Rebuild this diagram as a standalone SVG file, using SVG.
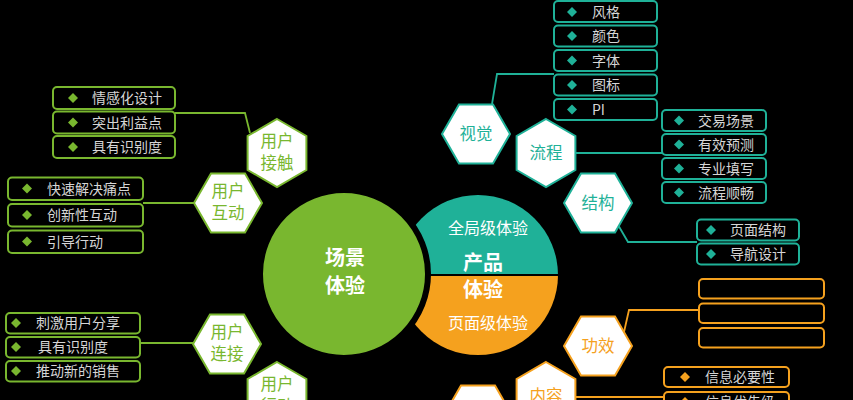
<svg xmlns="http://www.w3.org/2000/svg" xmlns:xlink="http://www.w3.org/1999/xlink" width="853" height="400" viewBox="0 0 853 400">
<style>
text{font-family:"Noto Sans CJK SC","Noto Sans",sans-serif}
.lt{font-size:14px;fill:#d6d6d6}
.ht{font-size:16.5px;text-anchor:middle}
.g{fill:#ffffff;stroke:#79b72f;stroke-width:2}
.t{fill:#ffffff;stroke:#1fb198;stroke-width:2}
.o{fill:#ffffff;stroke:#f5a11e;stroke-width:2}
.gt{fill:#79b72f}.tt{fill:#1fb198}.ot{fill:#f5a11e}
.bg{fill:#000;stroke:#79b72f;stroke-width:2}
.bt{fill:#000;stroke:#1fb198;stroke-width:2}
.bo{fill:#000;stroke:#f5a11e;stroke-width:2}
.cg{fill:none;stroke:#79b72f;stroke-width:1.8}
.ct{fill:none;stroke:#1fb198;stroke-width:1.8}
.co{fill:none;stroke:#f5a11e;stroke-width:1.8}
.ct2{font-size:16px;fill:#fff;text-anchor:middle}
.cb{font-size:20px;font-weight:bold;fill:#fff;text-anchor:middle}
</style>
<defs>
<polygon id="hA" points="-34,0 -17,-29.4 17,-29.4 34,0 17,29.4 -17,29.4"/>
<polygon id="hB" points="0,-34 29.4,-17 29.4,17 0,34 -29.4,17 -29.4,-17"/>
<path id="dia" d="M0,-5L5,0L0,5L-5,0Z"/>
</defs>
<rect width="853" height="400" fill="#000"/>

<g id="connectors">
<polyline class="ct" points="492,104 497,74 554,74"/>
<polyline class="ct" points="575,153 662,153"/>
<polyline class="ct" points="614,218 628,242 697,242"/>
<polyline class="co" points="624,332 629,310 699,310"/>
<polyline class="co" points="575,397 664,397"/>
<polyline class="cg" points="175,113 245,113 250,133"/>
<polyline class="cg" points="143,203 194,203"/>
<polyline class="cg" points="140,343 193,343"/>
</g>

<g id="product">
<path d="M398,275A80,80 0 0 1 558,275Z" fill="#1fb198"/>
<path d="M398,275A80,80 0 0 0 558,275Z" fill="#f5a11e"/>
<line x1="398" y1="275" x2="558" y2="275" stroke="#000" stroke-width="2"/>
<text class="ct2" x="488" y="234">全局级体验</text>
<text class="cb" x="483" y="270">产品</text>
<text class="cb" x="483" y="297">体验</text>
<text class="ct2" x="488" y="329">页面级体验</text>
</g>

<g id="scene">
<circle cx="344" cy="274" r="84" fill="#79b72f" stroke="#000" stroke-width="6"/>
<text class="cb" x="345" y="265" font-size="21">场景</text>
<text class="cb" x="345" y="293" font-size="21">体验</text>
</g>

<g id="hex-shijue"><use href="#hA" class="t" x="476" y="134"/><text class="ht tt" x="476" y="140">视觉</text></g>
<g id="hex-liucheng"><use href="#hB" class="t" x="546" y="153"/><text class="ht tt" x="546" y="159">流程</text></g>
<g id="hex-jiegou"><use href="#hA" class="t" x="598" y="203"/><text class="ht tt" x="598" y="209">结构</text></g>
<g id="hex-gongxiao"><use href="#hA" class="o" x="598" y="346"/><text class="ht ot" x="598" y="352">功效</text></g>
<g id="hex-neirong"><use href="#hB" class="o" x="546" y="396"/><text class="ht ot" x="546" y="402">内容</text></g>
<g id="hex-bottom"><use href="#hA" class="o" x="478" y="415"/></g>

<g id="hex-jiechu"><use href="#hB" class="g" x="277" y="153"/><text class="ht gt" x="277" y="147">用户</text><text class="ht gt" x="277" y="169">接触</text></g>
<g id="hex-hudong"><use href="#hA" class="g" x="228" y="203"/><text class="ht gt" x="228" y="197">用户</text><text class="ht gt" x="228" y="219">互动</text></g>
<g id="hex-lianjie"><use href="#hA" class="g" x="227" y="344"/><text class="ht gt" x="227" y="338">用户</text><text class="ht gt" x="227" y="360">连接</text></g>
<g id="hex-xingdong"><use href="#hB" class="g" x="277" y="396"/><text class="ht gt" x="277" y="390">用户</text><text class="ht gt" x="277" y="412">行动</text></g>

<g id="list-shijue">
<rect class="bt" x="554" y="1" width="103" height="21" rx="4"/><use href="#dia" class="tt" x="572" y="12"/><text class="lt" x="592" y="17">风格</text>
<rect class="bt" x="554" y="25.5" width="103" height="21" rx="4"/><use href="#dia" class="tt" x="572" y="36"/><text class="lt" x="592" y="41">颜色</text>
<rect class="bt" x="554" y="50" width="103" height="21" rx="4"/><use href="#dia" class="tt" x="572" y="60.5"/><text class="lt" x="592" y="65.5">字体</text>
<rect class="bt" x="554" y="74.5" width="103" height="21" rx="4"/><use href="#dia" class="tt" x="572" y="85"/><text class="lt" x="592" y="90">图标</text>
<rect class="bt" x="554" y="99" width="103" height="21" rx="4"/><use href="#dia" class="tt" x="572" y="109.5"/><text class="lt" x="592" y="114.5">PI</text>
</g>

<g id="list-liucheng">
<rect class="bt" x="662" y="110" width="104" height="21" rx="4"/><use href="#dia" class="tt" x="679" y="120.5"/><text class="lt" x="698" y="125.5">交易场景</text>
<rect class="bt" x="662" y="134" width="104" height="21" rx="4"/><use href="#dia" class="tt" x="679" y="144.5"/><text class="lt" x="698" y="149.5">有效预测</text>
<rect class="bt" x="662" y="158" width="104" height="21" rx="4"/><use href="#dia" class="tt" x="679" y="168.5"/><text class="lt" x="698" y="173.5">专业填写</text>
<rect class="bt" x="662" y="182" width="104" height="21" rx="4"/><use href="#dia" class="tt" x="679" y="192.5"/><text class="lt" x="698" y="197.5">流程顺畅</text>
</g>

<g id="list-jiegou">
<rect class="bt" x="697" y="219.5" width="102" height="21" rx="4"/><use href="#dia" class="tt" x="711" y="230"/><text class="lt" x="730" y="235">页面结构</text>
<rect class="bt" x="697" y="243.5" width="102" height="21" rx="4"/><use href="#dia" class="tt" x="711" y="254"/><text class="lt" x="730" y="259">导航设计</text>
</g>

<g id="list-gongxiao">
<rect class="bo" x="699" y="279" width="125" height="19.5" rx="4"/>
<rect class="bo" x="699" y="303.5" width="125" height="19.5" rx="4"/>
<rect class="bo" x="699" y="328" width="125" height="19.5" rx="4"/>
</g>

<g id="list-neirong">
<rect class="bo" x="664" y="367" width="125" height="20" rx="4"/><use href="#dia" class="ot" x="685" y="377"/><text class="lt" x="705" y="382">信息必要性</text>
<rect class="bo" x="664" y="392" width="125" height="20" rx="4"/><use href="#dia" class="ot" x="685" y="402"/><text class="lt" x="705" y="407">信息优先级</text>
</g>

<g id="list-jiechu">
<rect class="bg" x="53" y="87" width="122" height="22" rx="4"/><use href="#dia" class="gt" x="73" y="98"/><text class="lt" x="92" y="103">情感化设计</text>
<rect class="bg" x="53" y="111.5" width="122" height="22" rx="4"/><use href="#dia" class="gt" x="73" y="122.5"/><text class="lt" x="92" y="127.5">突出利益点</text>
<rect class="bg" x="53" y="136" width="122" height="22" rx="4"/><use href="#dia" class="gt" x="73" y="147"/><text class="lt" x="92" y="152">具有识别度</text>
</g>

<g id="list-hudong">
<rect class="bg" x="8" y="177.5" width="135" height="22.5" rx="4"/><use href="#dia" class="gt" x="27" y="188.5"/><text class="lt" x="47" y="193.5">快速解决痛点</text>
<rect class="bg" x="8" y="204" width="135" height="22.5" rx="4"/><use href="#dia" class="gt" x="27" y="215"/><text class="lt" x="47" y="220">创新性互动</text>
<rect class="bg" x="8" y="230.5" width="135" height="22.5" rx="4"/><use href="#dia" class="gt" x="27" y="241.5"/><text class="lt" x="47" y="246.5">引导行动</text>
</g>

<g id="list-lianjie">
<rect class="bg" x="6" y="313" width="134" height="20.5" rx="4"/><use href="#dia" class="gt" x="16" y="323"/><text class="lt" x="36" y="328">刺激用户分享</text>
<rect class="bg" x="6" y="337" width="134" height="20.5" rx="4"/><use href="#dia" class="gt" x="16" y="347"/><text class="lt" x="38" y="352">具有识别度</text>
<rect class="bg" x="6" y="361" width="134" height="20.5" rx="4"/><use href="#dia" class="gt" x="16" y="371"/><text class="lt" x="36" y="376">推动新的销售</text>
</g>
</svg>
